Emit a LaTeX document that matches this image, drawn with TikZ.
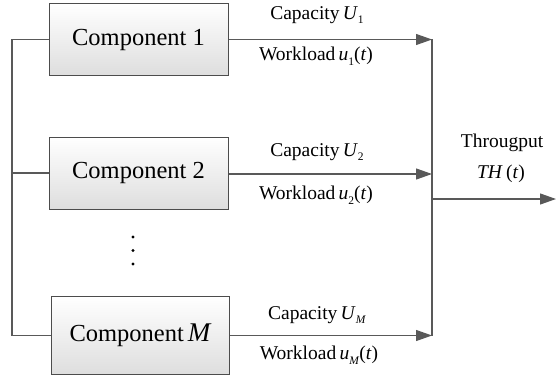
\documentclass[tikz,border=0pt]{standalone}
\usepackage{fontspec}
\setmainfont{Liberation Serif}
\usetikzlibrary{arrows.meta}
\newcommand\lsub[1]{\raisebox{-0.5ex}{\fontsize{11.5}{11.5}\selectfont #1}}
\tikzset{
  comp/.style={draw=black!70, line width=1pt, top color=white, bottom color=black!13,
    minimum width=179pt, minimum height=72pt, inner sep=0pt, font=\fontsize{24.5}{27}\selectfont},
  wire/.style={draw=black!65, line width=1.2pt},
  arr/.style={wire, -{Triangle[length=16pt,width=11pt]}},
  lab/.style={font=\fontsize{19.5}{22}\selectfont, inner sep=0pt},
  dotn/.style={circle, fill=black, inner sep=0pt, minimum size=3.2pt}
}
\begin{document}
\begin{tikzpicture}[x=1pt,y=-1pt]
\useasboundingbox (0,0) rectangle (556,377);
\node[comp] (c1) at (138.5,39.5) {Component 1};
\node[comp] (c2) at (138.5,173) {Component 2};
\node[comp, minimum width=178pt, minimum height=78pt] (cM) at (140,335.5) {Component\,{\itshape\fontsize{27}{27}\selectfont M}};
\node[dotn] (d1) at (133,237) {};
\node[dotn] (d2) at (133,250.5) {};
\node[dotn] (d3) at (133,264) {};
% left bus
\coordinate (l1) at (12,39.5);
\coordinate (l2) at (12,173);
\coordinate (lM) at (12,335.5);
\draw[wire] (c1.west) -- (l1) -- (lM) -- (cM.west);
\draw[wire] (l2) -- (c2.west);
% right bus
\coordinate (r1) at (432,39.5);
\coordinate (r2) at (432,174);
\coordinate (rM) at (432,335.5);
\coordinate (o) at (432,199);
\coordinate (tip) at (556,199);
\draw[arr] (c1.east) -- (r1);
\draw[arr] (c2.east |- r2) -- (r2);
\draw[arr] (cM.east) -- (rM);
\draw[wire] (r1) -- (rM);
\draw[arr] (o) -- (tip);
% labels
\node[lab] (cap1) at (317,15) {Capacity\,\textit{U}\lsub{1}};
\node[lab] (wl1) at (316,56) {Workload\,\textit{u}\lsub{1}(\textit{t})};
\node[lab] (cap2) at (317,152) {Capacity\,\textit{U}\lsub{2}};
\node[lab] (wl2) at (316,195) {Workload\,\textit{u}\lsub{2}(\textit{t})};
\node[lab] (capM) at (317,315) {Capacity\,\textit{U}\lsub{\textit{M}}};
\node[lab] (wlM) at (319,355) {Workload\,\textit{u}\lsub{\textit{M}}(\textit{t})};
\node[lab] (th) at (502,143) {Througput};
\node[lab] (tht) at (501,174) {\textit{TH}\,(\textit{t})};
\end{tikzpicture}
\end{document}
